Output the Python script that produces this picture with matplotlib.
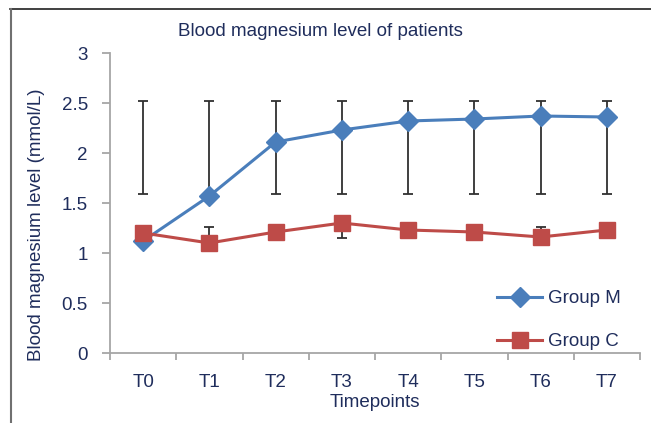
import matplotlib
matplotlib.use('Agg')
import matplotlib.pyplot as plt
from matplotlib.lines import Line2D
import numpy as np

plt.rcParams['font.family'] = ['Liberation Sans', 'DejaVu Sans']

timepoints = ['T0', 'T1', 'T2', 'T3', 'T4', 'T5', 'T6', 'T7']
group_m = [1.12, 1.57, 2.11, 2.23, 2.32, 2.34, 2.37, 2.36]
group_c = [1.20, 1.10, 1.21, 1.30, 1.23, 1.21, 1.16, 1.23]
# error bar ends (they do not always straddle the point)
m_err_low = [1.59, 1.59, 1.59, 1.59, 1.59, 1.59, 1.59, 1.59]
m_err_high = [2.52, 2.52, 2.52, 2.52, 2.52, 2.52, 2.52, 2.52]
c_err_low = [1.20, 1.10, 1.21, 1.15, 1.23, 1.21, 1.16, 1.23]
c_err_high = [1.20, 1.26, 1.21, 1.30, 1.23, 1.21, 1.26, 1.23]

text_col = '#1f2d5c'
axis_col = '#a6a6a6'
blue = '#4a7ebb'
red = '#be4b48'
err_col = '#303030'
fs = 13.5

fig = plt.figure(figsize=(6.51, 4.23), dpi=100)
ax = fig.add_axes([110/651, 70/423, 530/651, 300/423])

x = np.arange(len(timepoints))

# error bars drawn by hand, since the ranges do not always contain the point
for lo, hi in [(m_err_low, m_err_high), (c_err_low, c_err_high)]:
    ax.vlines(x, lo, hi, color=err_col, lw=1.3, zorder=2)
    ax.plot(x, lo, ls='none', marker='_', ms=7.5, mew=1.3, color=err_col, zorder=2)
    ax.plot(x, hi, ls='none', marker='_', ms=7.5, mew=1.3, color=err_col, zorder=2)

ax.plot(x, group_m, color=blue, lw=2.2, marker='D', ms=10, mfc=blue, mec=blue, zorder=3)
ax.plot(x, group_c, color=red, lw=2.2, marker='s', ms=12, mfc=red, mec=red, zorder=4)

ax.set_xlim(-0.5, len(timepoints) - 0.5)
ax.set_ylim(0, 3)
ax.set_yticks(np.arange(0, 3.01, 0.5))
ax.set_yticklabels(['0', '0.5', '1', '1.5', '2', '2.5', '3'])
ax.set_xticks(x)
ax.set_xticklabels(timepoints)
ax.set_xticks(np.arange(-0.5, len(timepoints)), minor=True)

for s in ['top', 'right']:
    ax.spines[s].set_visible(False)
for s in ['left', 'bottom']:
    ax.spines[s].set_color(axis_col)
    ax.spines[s].set_linewidth(1.3)

ax.tick_params(axis='x', which='major', length=0, pad=15, labelsize=fs, labelcolor=text_col)
ax.tick_params(axis='x', which='minor', length=5, width=1.3, color=axis_col, direction='out')
ax.tick_params(axis='y', length=6, width=1.3, color=axis_col, pad=10, labelsize=fs, labelcolor=text_col)

ax.set_xlabel('Timepoints', fontsize=fs, color=text_col, labelpad=2)
ax.set_ylabel('Blood magnesium level (mmol/L)', fontsize=fs, color=text_col)
ax.yaxis.set_label_coords(-0.122, 0.427)

fig.text(320/651, 1 - 32/423, 'Blood magnesium level of patients', ha='center', va='center',
         fontsize=fs, color=text_col)

handles = [Line2D([], [], color=blue, lw=2.2, marker='D', ms=10),
           Line2D([], [], color=red, lw=2.2, marker='s', ms=12)]
leg = fig.legend(handles, ['Group M', 'Group C'], loc='upper left',
                 bbox_to_anchor=(497/651, 1 - 290/423), bbox_transform=fig.transFigure,
                 frameon=False, fontsize=fs, handlelength=2.4, labelspacing=1.4,
                 handletextpad=0.3, borderpad=0, borderaxespad=0)
for t in leg.get_texts():
    t.set_color(text_col)

# outer frame lines on top and left
fig.add_artist(Line2D([10/651, 1], [1 - 9/423, 1 - 9/423], color='#202020', lw=1.2))
fig.add_artist(Line2D([11/651, 11/651], [0, 1 - 9/423], color='#707070', lw=1.5))

fig.savefig('out.png', dpi=100)
